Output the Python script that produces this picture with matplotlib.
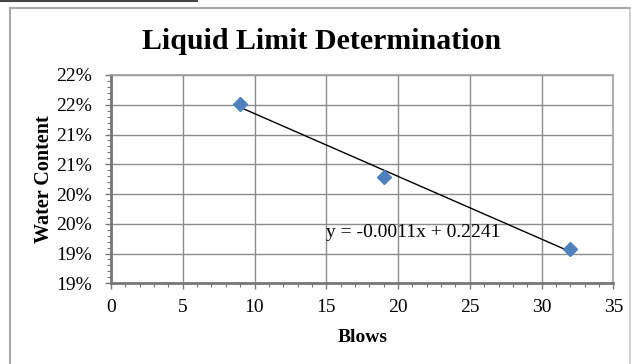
import matplotlib
matplotlib.use('Agg')
import matplotlib.pyplot as plt
from matplotlib.lines import Line2D
from matplotlib.ticker import MultipleLocator
import numpy as np

# data
blows = [9, 19, 32]
water_content = [0.2152, 0.2029, 0.1908]
x_ticks = [0, 5, 10, 15, 20, 25, 30, 35]
y_ticks = [0.185, 0.19, 0.195, 0.20, 0.205, 0.21, 0.215, 0.22]
y_tick_labels = ['19%', '19%', '20%', '20%', '21%', '21%', '22%', '22%']

plt.rcParams['font.family'] = ['Liberation Serif', 'DejaVu Serif']

fig = plt.figure(figsize=(6.31, 3.64), dpi=100)
ax = fig.add_axes([0.1759, 0.2217, 0.7961, 0.5723])

# linear trendline
slope, intercept = np.polyfit(blows, water_content, 1)
xs = np.array([min(blows), max(blows)])
ax.plot(xs, slope * xs + intercept, color='black', lw=1, zorder=3)
ax.plot(blows, water_content, 'D', color='#4F81BD', markersize=7, zorder=4)

ax.set_xlim(0, 35)
ax.set_ylim(0.185, 0.22)
ax.set_xticks(x_ticks)
ax.set_yticks(y_ticks)
ax.set_yticklabels(y_tick_labels)
ax.xaxis.set_minor_locator(MultipleLocator(1))
ax.yaxis.set_minor_locator(MultipleLocator(0.001))
ax.grid(True, which='major', color='#8c8c8c', lw=1)
ax.set_axisbelow(True)

ax.tick_params(axis='both', which='major', labelsize=14, length=4, color='#777777', width=1)
ax.tick_params(axis='both', which='minor', length=3, color='#777777', width=0.8)
ax.tick_params(axis='x', pad=7)
ax.tick_params(axis='y', pad=10)

for side in ['left', 'bottom']:
    ax.spines[side].set_color('#777777')
    ax.spines[side].set_linewidth(2)
for side in ['top', 'right']:
    ax.spines[side].set_color('#a0a0a0')
    ax.spines[side].set_linewidth(1.2)

ax.set_xlabel('Blows', fontsize=14, fontweight='bold', labelpad=10)
ax.set_ylabel('Water Content', fontsize=14.5, fontweight='bold', labelpad=1)
fig.text(0.51, 0.885, 'Liquid Limit Determination', fontsize=21.5, fontweight='bold',
         ha='center', va='center')

eq = 'y = -%.4fx + %.4f' % (abs(slope), intercept)
ax.text(15.0, 0.1935, eq, fontsize=14, ha='left', va='center')

# chart frame and the document line above it
fig.add_artist(Line2D([9.5/631, 9.5/631], [0, 1 - 7.5/364], color='#a8a8a8', lw=1.5))
fig.add_artist(Line2D([9.5/631, 629.5/631], [1 - 7.5/364, 1 - 7.5/364], color='#a8a8a8', lw=1.5))
fig.add_artist(Line2D([629.5/631, 629.5/631], [0, 1 - 7.5/364], color='#c8c8c8', lw=1.2))
fig.add_artist(Line2D([0, 197/631], [1 - 1/364, 1 - 1/364], color='#444444', lw=1.5))

fig.savefig('out.png', dpi=100, facecolor='white')
